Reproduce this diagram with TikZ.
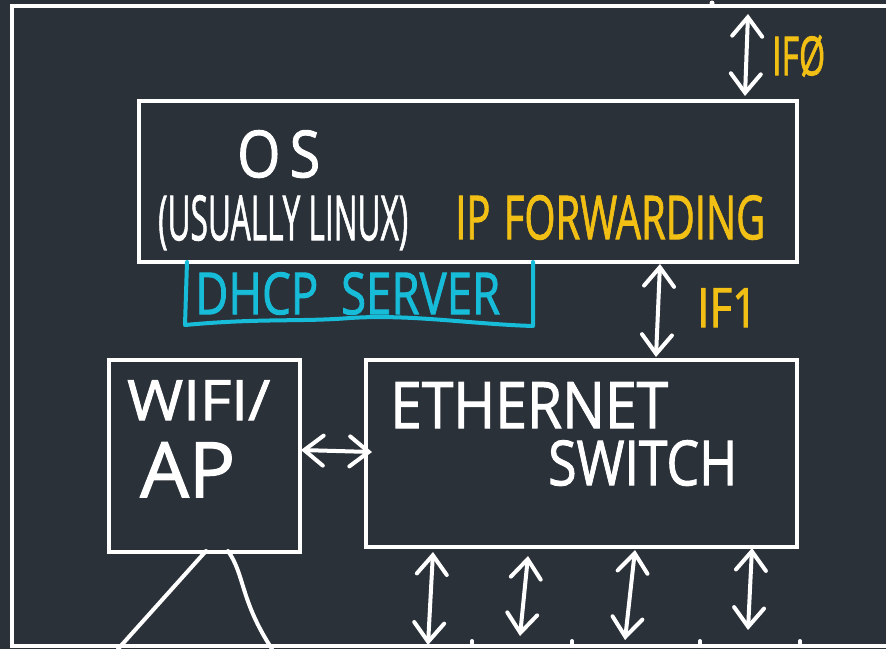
\documentclass[tikz,border=0pt]{standalone}
\usepackage{fontspec}
\setmainfont{Open Sans}[FakeBold=1.6]
\usepackage{graphicx}
\usetikzlibrary{arrows.meta}
\definecolor{board}{HTML}{2A3139}
\definecolor{chalk}{HTML}{FFFFFF}
\definecolor{marker}{HTML}{F2C014}
\definecolor{aqua}{HTML}{17BCD9}
% text stretched into a box of given width and height (pt)
\newcommand\hw[3]{\resizebox{#1pt}{#2pt}{#3}}
\tikzset{
  box/.style={draw=chalk, line width=4pt, anchor=north west, inner sep=0pt},
  lbl/.style={anchor=north west, inner sep=0pt, text=chalk},
  link/.style={draw=chalk, line width=4pt, line cap=round,
    {Straight Barb[length=19pt,width=30pt,line cap=round]}-{Straight Barb[length=19pt,width=30pt,line cap=round]}},
  wire/.style={draw=chalk, line width=4pt, line cap=round},
}
\begin{document}
\begin{tikzpicture}[x=1pt,y=-1pt]
\useasboundingbox (0,0) rectangle (886,649);
\fill[board] (0,0) rectangle (886,649);

% outer enclosure
\draw[wire, line cap=butt] (900,6) -- (12,6) -- (12,646) -- (900,646);
\fill[chalk] (712,3) circle (2.5pt);
\foreach \tx in {472,572,700,800} \draw[wire] (\tx,646) -- (\tx,641);

% boxes
\node[box, minimum width=658pt, minimum height=161pt] (os) at (137,99) {};
\node[box, minimum width=191pt, minimum height=192pt] (ap) at (107,358) {};
\node[box, minimum width=431pt, minimum height=187pt] (sw) at (364,358) {};

% labels
\node[lbl] (tos) at (237,130) {\hw{83}{47}{O\,S}};
\node[lbl] (tlinux) at (158,195) {\hw{250}{45}{(USUALLY LINUX)}};
\node[lbl, text=marker] (tfwd) at (455,195) {\hw{310}{44}{IP\,\,FORWARDING}};
\node[lbl, text=aqua] (tdhcp) at (195,272) {\hw{305}{42}{DHCP\,\,\,SERVER}};
\node[lbl] (twifi) at (127,380) {\hw{143}{40}{WIFI/}};
\node[lbl] (tap) at (140,442) {\hw{95}{55}{AP}};
\node[lbl] (teth) at (390,382) {\hw{278}{46}{ETHERNET}};
\node[lbl] (tsw) at (548,440) {\hw{189}{45}{SWITCH}};
\node[lbl, text=marker] (tif0) at (772,35) {\hw{53}{40}{IFØ}};
\node[lbl, text=marker] (tif1) at (697,288) {\hw{60}{39}{IF1}};

% DHCP bracket under the OS box
\coordinate (b1) at (187,262);
\coordinate (b2) at (533,262);
\draw[draw=aqua, line width=4pt, line cap=round, line join=round]
  (b1) -- (185,325) .. controls (260,318) and (300,322) .. (350,318)
  .. controls (410,314) and (470,324) .. (533,326) -- (b2);

% connection points
\coordinate (up0) at (748,14);
\coordinate (p1) at (660,264);
\coordinate (p2) at (656,357);
\coordinate (q1) at (301,450);
\coordinate (q2) at (372,452);
\coordinate (s1) at (433,552);
\coordinate (s2) at (528,556);
\coordinate (s3) at (635,550);
\coordinate (s4) at (752,548);
\coordinate (e1) at (428,645);
\coordinate (e2) at (520,636);
\coordinate (e3) at (625,640);
\coordinate (e4) at (748,630);
\coordinate (o0) at (745,96);

% connectors
\draw[link] (up0) -- (o0);
\draw[link] (p1) -- (p2);
\draw[link] (q1) -- (q2);
\draw[link] (s1) -- (e1);
\draw[link] (s2) -- (e2);
\draw[link] (s3) -- (e3);
\draw[link] (s4) -- (e4);

% antenna lines below the access point
\coordinate (a1) at (206,551);
\coordinate (a2) at (228,551);
\draw[wire] (a1) -- (118,649);
\draw[wire] (a2) .. controls (245,575) and (240,600) .. (272,649);
\end{tikzpicture}
\end{document}
